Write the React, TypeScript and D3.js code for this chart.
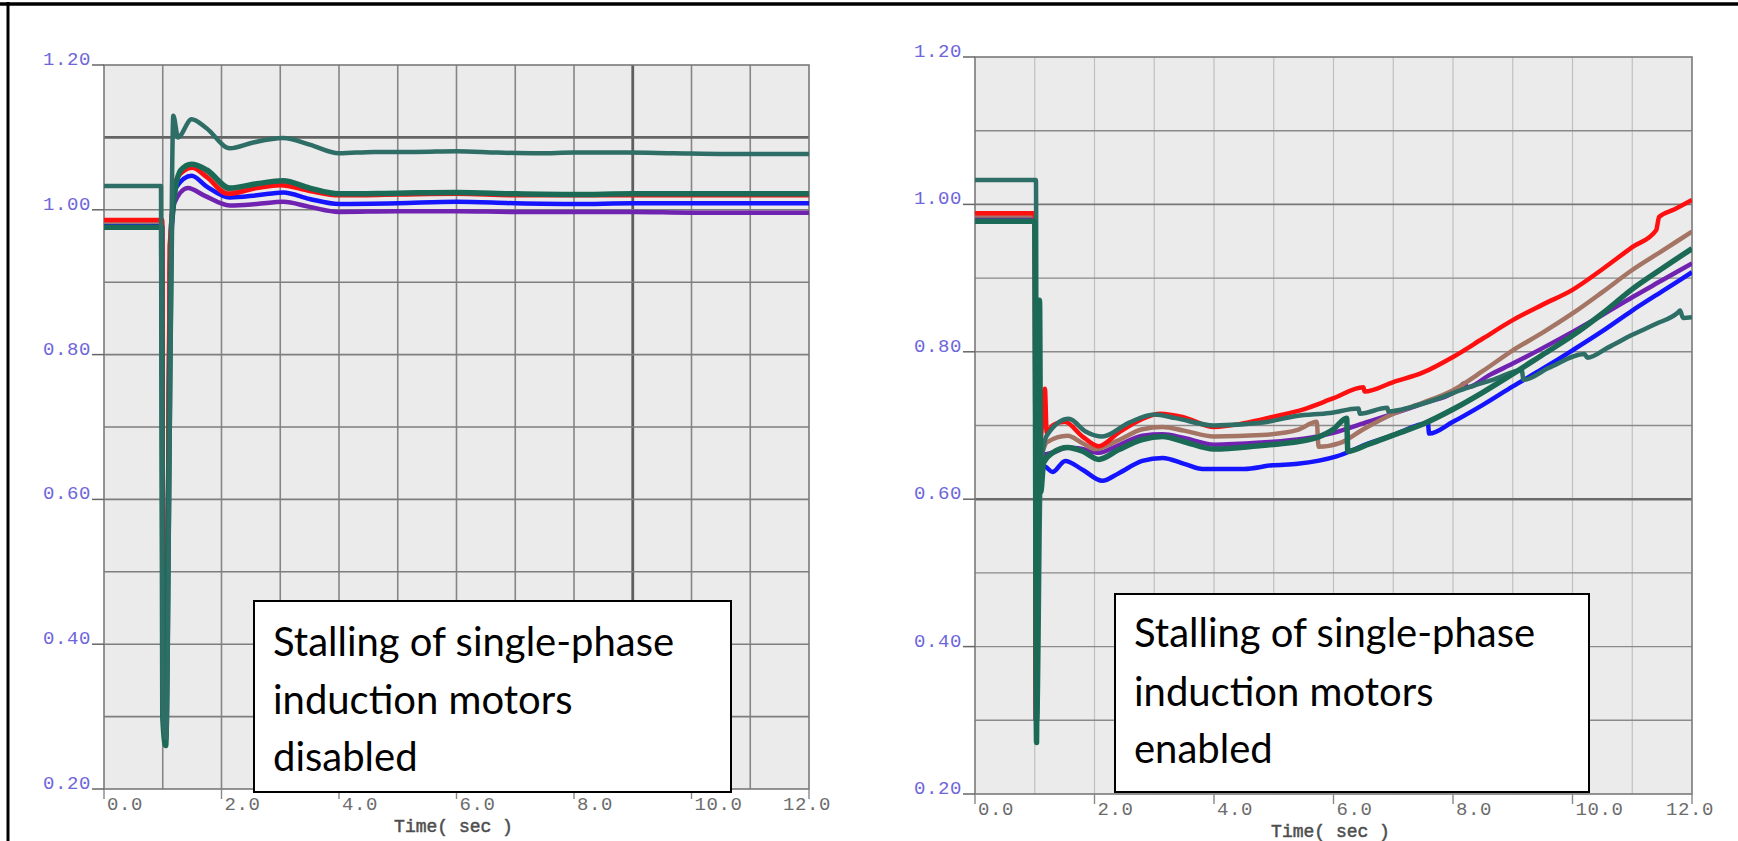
import * as d3 from "d3";
import React from "react";

type Pt = [number, number];

const W = 1738;
const H = 841;

const yTicks = [0.2, 0.4, 0.6, 0.8, 1.0, 1.2];
const yTickLabels = ["0.20", "0.40", "0.60", "0.80", "1.00", "1.20"];
const xTicks = [0, 2, 4, 6, 8, 10, 12];
const xTickLabels = ["0.0", "2.0", "4.0", "6.0", "8.0", "10.0", "12.0"];
const xTitle = "Time( sec )";
const noteLeft = ["Stalling of single-phase", "induction motors", "disabled"];
const noteRight = ["Stalling of single-phase", "induction motors", "enabled"];

// ---- left panel: stalling disabled ----
const leftPurple: Pt[] = [[0, 0.977], [0.99, 0.977], [1.01, 0.3], [1.06, 0.28], [1.12, 0.9], [1.2, 1.01], [1.43, 1.03], [1.7, 1.02], [2.14, 1.006], [2.6, 1.008], [3.05, 1.011], [3.5, 1.004], [4.0, 0.997], [5.0, 0.998], [6.0, 0.998], [7.0, 0.997], [8.0, 0.997], [9.0, 0.997], [10.0, 0.996], [12, 0.996]];
const leftBlue: Pt[] = [[0, 0.978], [0.99, 0.978], [1.01, 0.3], [1.06, 0.28], [1.12, 0.92], [1.22, 1.03], [1.49, 1.047], [1.75, 1.032], [2.14, 1.017], [2.6, 1.02], [3.05, 1.024], [3.5, 1.015], [4.0, 1.008], [5.0, 1.009], [6.0, 1.011], [7.0, 1.009], [8.0, 1.008], [9.0, 1.009], [10.0, 1.009], [12, 1.009]];
const leftBrown: Pt[] = [[0, 0.984], [0.99, 0.984], [1.01, 0.3], [1.06, 0.28], [1.12, 0.95], [1.25, 1.045], [1.5, 1.06], [1.75, 1.048], [2.1, 1.026], [2.6, 1.032], [3.0, 1.036], [3.5, 1.028], [4.0, 1.021], [5.0, 1.022], [6.0, 1.023], [7.0, 1.021], [8.0, 1.021], [10.0, 1.021], [12, 1.021]];
const leftRed: Pt[] = [[0, 0.986], [0.99, 0.986], [1.01, 0.3], [1.06, 0.28], [1.12, 0.95], [1.25, 1.045], [1.5, 1.058], [1.75, 1.045], [2.1, 1.022], [2.6, 1.03], [3.0, 1.034], [3.5, 1.026], [4.0, 1.02], [5.0, 1.021], [6.0, 1.022], [7.0, 1.02], [8.0, 1.02], [10.0, 1.02], [12, 1.02]];
const leftGreen: Pt[] = [[0, 0.976], [0.98, 0.976], [1.0, 0.3], [1.05, 0.26], [1.1, 0.6], [1.15, 0.98], [1.3, 1.054], [1.49, 1.063], [1.75, 1.055], [2.14, 1.03], [2.6, 1.036], [3.05, 1.04], [3.5, 1.03], [4.0, 1.022], [5.0, 1.023], [6.0, 1.024], [7.0, 1.022], [8.0, 1.021], [9.0, 1.022], [10.0, 1.022], [12, 1.022]];
const leftTeal: Pt[] = [[0, 1.033], [0.97, 1.033], [1.0, 0.3], [1.06, 0.27], [1.12, 0.7], [1.18, 1.13], [1.26, 1.1], [1.49, 1.125], [1.74, 1.113], [2.14, 1.085], [2.54, 1.093], [3.05, 1.099], [3.5, 1.09], [4.0, 1.078], [4.6, 1.08], [5.3, 1.08], [6.0, 1.081], [6.7, 1.079], [7.4, 1.078], [8.0, 1.079], [8.9, 1.079], [9.7, 1.078], [10.6, 1.077], [12, 1.077]];

// ---- right panel: stalling enabled ----
const rightBlue: Pt[] = [[0, 0.979], [1.0, 0.979], [1.02, 0.3], [1.08, 0.62], [1.15, 0.645], [1.3, 0.637], [1.51, 0.652], [1.8, 0.64], [2.13, 0.625], [2.4, 0.635], [2.8, 0.652], [3.14, 0.656], [3.5, 0.648], [3.81, 0.641], [4.5, 0.641], [4.98, 0.646], [5.4, 0.648], [6.05, 0.658], [6.6, 0.676], [7.0, 0.687], [7.58, 0.703], [7.6, 0.689], [8.0, 0.705], [8.5, 0.728], [9.0, 0.753], [9.5, 0.777], [10.0, 0.802], [10.5, 0.828], [11.0, 0.856], [11.5, 0.882], [12, 0.908]];
const rightPurple: Pt[] = [[0, 0.982], [1.0, 0.982], [1.02, 0.3], [1.08, 0.63], [1.15, 0.66], [1.3, 0.663], [1.55, 0.67], [1.8, 0.668], [2.07, 0.663], [2.4, 0.673], [2.8, 0.686], [3.14, 0.688], [3.5, 0.683], [4.0, 0.674], [4.8, 0.677], [5.5, 0.682], [6.0, 0.69], [6.5, 0.703], [7.0, 0.716], [7.5, 0.73], [8.1, 0.75], [8.18, 0.757], [8.25, 0.752], [8.6, 0.768], [9.0, 0.784], [9.5, 0.805], [10.0, 0.827], [10.5, 0.85], [11.0, 0.874], [11.5, 0.897], [12, 0.92]];
const rightBrown: Pt[] = [[0, 0.985], [1.0, 0.985], [1.02, 0.3], [1.06, 0.82], [1.09, 0.66], [1.2, 0.677], [1.55, 0.686], [1.8, 0.676], [2.02, 0.668], [2.4, 0.68], [2.8, 0.695], [3.14, 0.698], [3.5, 0.693], [4.0, 0.685], [4.8, 0.687], [5.4, 0.694], [5.72, 0.705], [5.75, 0.671], [6.1, 0.676], [6.5, 0.695], [7.0, 0.716], [7.5, 0.731], [8.0, 0.748], [8.5, 0.774], [9.0, 0.802], [9.5, 0.826], [10.0, 0.852], [10.5, 0.881], [11.0, 0.911], [11.5, 0.937], [12, 0.963]];
const rightRed: Pt[] = [[0, 0.988], [1.0, 0.988], [1.02, 0.3], [1.07, 0.62], [1.12, 0.7], [1.17, 0.75], [1.2, 0.69], [1.3, 0.7], [1.5, 0.705], [1.8, 0.685], [2.07, 0.672], [2.4, 0.69], [2.8, 0.709], [3.1, 0.716], [3.5, 0.711], [4.0, 0.698], [4.5, 0.703], [5.0, 0.712], [5.5, 0.722], [6.0, 0.737], [6.5, 0.752], [6.52, 0.746], [7.0, 0.759], [7.5, 0.772], [8.0, 0.793], [8.5, 0.818], [9.0, 0.843], [9.5, 0.864], [10.0, 0.884], [10.5, 0.912], [11.0, 0.942], [11.4, 0.965], [11.45, 0.983], [11.7, 0.993], [12, 1.006]];
const rightTeal: Pt[] = [[0, 1.033], [1.02, 1.033], [1.04, 0.3], [1.1, 0.64], [1.2, 0.686], [1.57, 0.709], [1.85, 0.692], [2.13, 0.685], [2.58, 0.704], [3.0, 0.715], [3.36, 0.71], [4.0, 0.7], [4.82, 0.704], [5.38, 0.713], [5.94, 0.717], [6.42, 0.723], [6.44, 0.716], [6.9, 0.724], [6.92, 0.719], [7.3, 0.725], [7.7, 0.735], [8.2, 0.75], [8.7, 0.763], [9.15, 0.775], [9.18, 0.762], [9.6, 0.778], [10.2, 0.797], [10.25, 0.792], [10.6, 0.806], [11.0, 0.823], [11.4, 0.838], [11.76, 0.853], [11.8, 0.856], [11.85, 0.846], [12, 0.847]];
const rightGreen: Pt[] = [[0, 0.977], [1.0, 0.977], [1.03, 0.27], [1.06, 0.6], [1.08, 0.87], [1.1, 0.61], [1.15, 0.65], [1.3, 0.663], [1.55, 0.67], [1.8, 0.665], [2.07, 0.654], [2.4, 0.667], [2.8, 0.681], [3.14, 0.685], [3.5, 0.678], [4.0, 0.668], [4.8, 0.673], [5.3, 0.677], [5.7, 0.683], [6.0, 0.695], [6.22, 0.71], [6.24, 0.665], [6.6, 0.675], [7.0, 0.687], [7.5, 0.702], [8.0, 0.722], [8.5, 0.745], [9.0, 0.77], [9.5, 0.796], [10.0, 0.822], [10.5, 0.852], [11.0, 0.885], [11.5, 0.913], [12, 0.94]];

const RED = "#ff1010";
const BLUE = "#1414ff";
const PURPLE = "#7022b0";
const BROWN = "#a47464";
const GREEN = "#1b6a56";
const TEAL = "#2e6e66";

const leftSeries = [
  { data: leftPurple, color: PURPLE, w: 4.5 },
  { data: leftBlue, color: BLUE, w: 4.5 },
  { data: leftBrown, color: BROWN, w: 4.5 },
  { data: leftRed, color: RED, w: 4.5 },
  { data: leftGreen, color: GREEN, w: 5.5 },
  { data: leftTeal, color: TEAL, w: 4.5 },
];
const rightSeries = [
  { data: rightBlue, color: BLUE, w: 4.5 },
  { data: rightPurple, color: PURPLE, w: 4.5 },
  { data: rightBrown, color: BROWN, w: 4.5 },
  { data: rightRed, color: RED, w: 4.5 },
  { data: rightTeal, color: TEAL, w: 4.5 },
  { data: rightGreen, color: GREEN, w: 5.5 },
];

const mono = "'Liberation Mono', 'DejaVu Sans Mono', monospace";

function Panel({ id, x0, x1, y0, y1, series, hLine, vLine, hSpecial, vSpecial, note, box }: any) {
  const x = d3.scaleLinear().domain([0, 12]).range([x0, x1]);
  const y = d3.scaleLinear().domain([0.2, 1.2]).range([y1, y0]);
  const line = d3
    .line<Pt>()
    .x((d) => x(d[0]))
    .y((d) => y(d[1]))
    .curve(d3.curveMonotoneX);

  const hVals = d3.range(3, 12).map((i) => i / 10);
  const vVals = d3.range(1, 12);

  return (
    <g>
      <defs>
        <clipPath id={id}>
          <rect x={x0} y={y0} width={x1 - x0} height={y1 - y0} />
        </clipPath>
      </defs>
      <rect x={x0} y={y0} width={x1 - x0} height={y1 - y0} fill="#ebebeb" />
      {vVals.map((v) => {
        const s = vSpecial[v] || vLine;
        return <line key={"v" + v} x1={x(v)} x2={x(v)} y1={y0} y2={y1} stroke={s.c} strokeWidth={s.w} />;
      })}
      {hVals.map((v) => {
        const s = hSpecial[v.toFixed(1)] || hLine;
        return <line key={"h" + v} x1={x0} x2={x1} y1={y(v)} y2={y(v)} stroke={s.c} strokeWidth={s.w} />;
      })}
      <rect x={x0} y={y0} width={x1 - x0} height={y1 - y0} fill="none" stroke="#7a7a7a" strokeWidth={1.6} />
      {xTicks.map((t) => (
        <line key={"xt" + t} x1={x(t)} x2={x(t)} y1={y1} y2={y1 + 10} stroke="#888" strokeWidth={1.4} />
      ))}
      {yTicks.map((v, i) => (
        <g key={"yt" + v}>
          <line x1={x0 - 12} x2={x0} y1={y(v)} y2={y(v)} stroke="#666" strokeWidth={1.5} />
          <text x={x0 - 13} y={y(v)} textAnchor="end" fontFamily={mono} fontSize={19} fill="#6e66da" letterSpacing={0.6}>
            {yTickLabels[i]}
          </text>
        </g>
      ))}
      {xTicks.map((t, i) => (
        <text
          key={"xl" + t}
          x={i === xTicks.length - 1 ? x(t) - 26 : x(t) + 3}
          y={y1 + 21}
          fontFamily={mono}
          fontSize={19}
          fill="#6c6c6c"
          letterSpacing={0.6}
        >
          {xTickLabels[i]}
        </text>
      ))}
      <text
        x={(x0 + x1) / 2 - 3}
        y={y1 + 43}
        textAnchor="middle"
        fontFamily={mono}
        fontSize={18}
        fill="#4e4e4e"
        stroke="#4e4e4e"
        strokeWidth={0.5}
      >
        {xTitle}
      </text>
      <g clipPath={`url(#${id})`}>
        {series.map((s: any, i: number) => (
          <path key={i} d={line(s.data) || ""} fill="none" stroke={s.color} strokeWidth={s.w} strokeLinejoin="round" />
        ))}
      </g>
      <rect x={box.x} y={box.y} width={box.w} height={box.h} fill="#fff" stroke="#000" strokeWidth={2} />
      {note.map((t: string, i: number) => (
        <text key={i} x={box.x + 19} y={box.base[i]} fontFamily="Lato, 'Open Sans', sans-serif" fontSize={40} fill="#000">
          {t}
        </text>
      ))}
    </g>
  );
}

export default function App() {
  return (
    <svg width={W} height={H} style={{ position: "absolute", left: 0, top: 0, background: "#fff" }}>
      <rect x={0} y={0} width={W} height={H} fill="#fff" />
      <Panel
        id="clipL"
        x0={104}
        x1={809}
        y0={65}
        y1={789}
        series={leftSeries}
        hLine={{ c: "#7e7e7e", w: 1.6 }}
        vLine={{ c: "#868686", w: 1.6 }}
        hSpecial={{ "1.1": { c: "#646464", w: 2.6 } }}
        vSpecial={{ 9: { c: "#5e5e5e", w: 2.8 } }}
        note={noteLeft}
        box={{ x: 254, y: 601, w: 477, h: 191, base: [656, 714, 771] }}
      />
      <Panel
        id="clipR"
        x0={975}
        x1={1692}
        y0={57}
        y1={794}
        series={rightSeries}
        hLine={{ c: "#8a8a8a", w: 1.4 }}
        vLine={{ c: "#c0c0c0", w: 1.2 }}
        hSpecial={{ "0.6": { c: "#6a6a6a", w: 2.4 }, "1.0": { c: "#777", w: 1.8 } }}
        vSpecial={{}}
        note={noteRight}
        box={{ x: 1115, y: 594, w: 474, h: 198, base: [647, 706, 763] }}
      />
      <line x1={0} x2={W} y1={4} y2={4} stroke="#000" strokeWidth={3.5} />
      <line x1={8} x2={8} y1={2} y2={H} stroke="#000" strokeWidth={3} />
    </svg>
  );
}
